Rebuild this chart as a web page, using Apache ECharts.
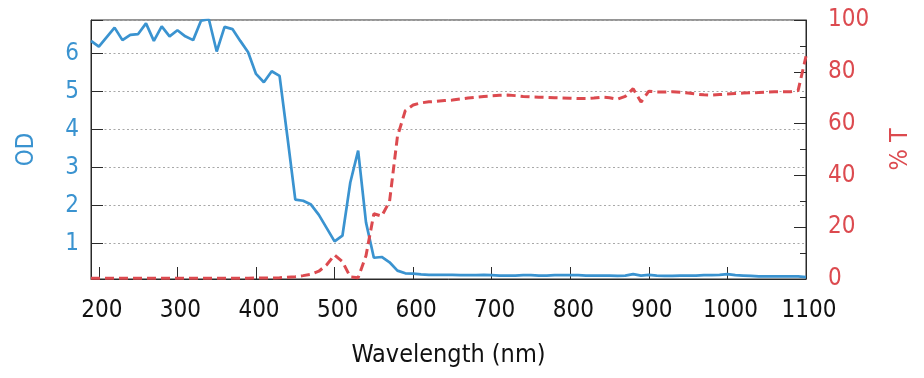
<!DOCTYPE html>
<html>
<head>
<meta charset="utf-8">
<script src="https://cdn.jsdelivr.net/npm/echarts@6/dist/echarts.min.js"></script>
<style>
html,body{margin:0;padding:0;background:#fff;}
#chart{width:924px;height:378px;}
</style>
</head>
<body>
<div id="chart"></div>
<script>
const wavelength = [190,200,210,220,230,240,250,260,270,280,290,300,310,320,330,340,350,360,370,380,390,400,410,420,430,440,450,460,470,480,490,500,510,520,530,540,550,560,570,580,590,600,610,620,630,640,650,660,670,680,690,700,710,720,730,740,750,760,770,780,790,800,810,820,830,840,850,860,870,880,890,900,910,920,930,940,950,960,970,980,990,1000,1010,1020,1030,1040,1050,1060,1070,1080,1090,1100];
const odValues = [6.33,6.18,6.43,6.68,6.35,6.49,6.51,6.79,6.33,6.71,6.45,6.61,6.45,6.35,6.86,6.90,6.05,6.70,6.64,6.33,6.03,5.46,5.24,5.53,5.41,3.80,2.15,2.12,2.02,1.75,1.40,1.05,1.20,2.60,3.44,1.55,0.62,0.64,0.50,0.28,0.21,0.20,0.18,0.17,0.17,0.17,0.17,0.16,0.16,0.16,0.17,0.16,0.15,0.15,0.15,0.16,0.16,0.15,0.15,0.16,0.16,0.16,0.16,0.15,0.15,0.15,0.15,0.14,0.15,0.19,0.15,0.17,0.15,0.14,0.14,0.15,0.15,0.15,0.16,0.16,0.17,0.19,0.16,0.15,0.14,0.13,0.13,0.13,0.13,0.13,0.13,0.11];
const transValues = [0.3,0.3,0.3,0.3,0.3,0.3,0.3,0.3,0.3,0.3,0.3,0.3,0.3,0.3,0.3,0.3,0.3,0.3,0.3,0.3,0.3,0.4,0.4,0.4,0.5,0.7,0.9,1.3,1.8,3.0,5.5,9.3,6.7,0.8,0.5,9.0,25.2,24.3,30.0,55.0,65.0,67.2,68.0,68.4,68.6,68.9,69.1,69.5,69.9,70.2,70.5,70.7,70.9,71.0,70.8,70.5,70.3,70.2,70.1,70.0,69.9,69.8,69.7,69.7,69.9,70.2,70.0,69.4,70.5,73.5,68.3,72.5,72.2,72.2,72.3,72.1,71.8,71.4,71.1,71.0,71.2,71.4,71.6,71.8,71.9,72.0,72.2,72.3,72.3,72.3,72.8,86.0];
const xTickLabels = ['200','300','400','500','600','700','800','900','1000','1100'];
const odTickLabels = ['1','2','3','4','5','6'];
const tTickLabels = ['0','20','40','60','80','100'];

const BLUE = '#3a93d0';
const RED = '#dc4a4f';
const AX = '#2a2a2a';
const FONT = "'DejaVu Sans Condensed', 'DejaVu Sans', sans-serif";

const odData = wavelength.map((w, i) => [w, odValues[i]]);
const tData = wavelength.map((w, i) => [w, transValues[i]]);

const chart = echarts.init(document.getElementById('chart'), null, {renderer: 'canvas'});
chart.setOption({
  animation: false,
  backgroundColor: '#fff',
  grid: {left: 91, right: 118, top: 20, bottom: 99, show: true, borderColor: AX, borderWidth: 1, backgroundColor: 'transparent'},
  xAxis: {
    type: 'value', min: 190, max: 1100, splitNumber: 9, minInterval: 100, maxInterval: 100,
    name: 'Wavelength (nm)', nameLocation: 'middle', nameGap: 64,
    nameTextStyle: {color: '#111', fontSize: 25, fontFamily: FONT},
    axisLine: {show: true, onZero: false, lineStyle: {color: AX, width: 1}},
    axisTick: {show: true, inside: true, length: 12, lineStyle: {color: AX, width: 1}},
    splitLine: {show: false},
    axisLabel: {color: '#111', fontSize: 24, fontFamily: FONT, margin: 20, padding: [0,0,0,6],
      formatter: v => xTickLabels.includes(String(v)) ? String(v) : ''}
  },
  yAxis: [
    {
      type: 'value', min: 0.06, max: 6.88, splitNumber: 7, minInterval: 1, maxInterval: 1, position: 'left',
      name: 'OD', nameLocation: 'middle', nameGap: 52, nameRotate: 90,
      nameTextStyle: {color: BLUE, fontSize: 24, fontFamily: FONT},
      axisLine: {show: true, onZero: false, lineStyle: {color: AX, width: 1}},
      axisTick: {show: true, inside: true, length: 12, lineStyle: {color: AX, width: 1}},
      splitLine: {show: true, lineStyle: {color: '#a8a8a8', type: [2, 2.5], width: 1}},
      axisLabel: {color: BLUE, fontSize: 24, fontFamily: FONT, margin: 12,
        formatter: v => odTickLabels.includes(String(v)) ? String(v) : ''}
    },
    {
      type: 'value', min: 0, max: 100, interval: 20, position: 'right',
      name: '% T', nameLocation: 'middle', nameGap: 82, nameRotate: 90,
      nameTextStyle: {color: RED, fontSize: 25, fontFamily: FONT},
      axisLine: {show: true, onZero: false, lineStyle: {color: AX, width: 1}},
      axisTick: {show: true, inside: true, length: 12, lineStyle: {color: AX, width: 1}},
      minorTick: {show: true, splitNumber: 2, length: 6, lineStyle: {color: AX, width: 1}},
      splitLine: {show: false},
      axisLabel: {color: RED, fontSize: 24, fontFamily: FONT, margin: 22,
        formatter: v => tTickLabels.includes(String(v)) ? String(v) : ''}
    }
  ],
  series: [
    {
      name: 'OD', type: 'line', yAxisIndex: 0, data: odData, showSymbol: false, smooth: false,
      lineStyle: {color: BLUE, width: 2.7}, itemStyle: {color: BLUE}, z: 3
    },
    {
      name: '% T', type: 'line', yAxisIndex: 1, data: tData, showSymbol: false, smooth: false,
      lineStyle: {color: RED, width: 3, type: [9, 5]}, itemStyle: {color: RED}, z: 4
    }
  ]
});
</script>
</body>
</html>
